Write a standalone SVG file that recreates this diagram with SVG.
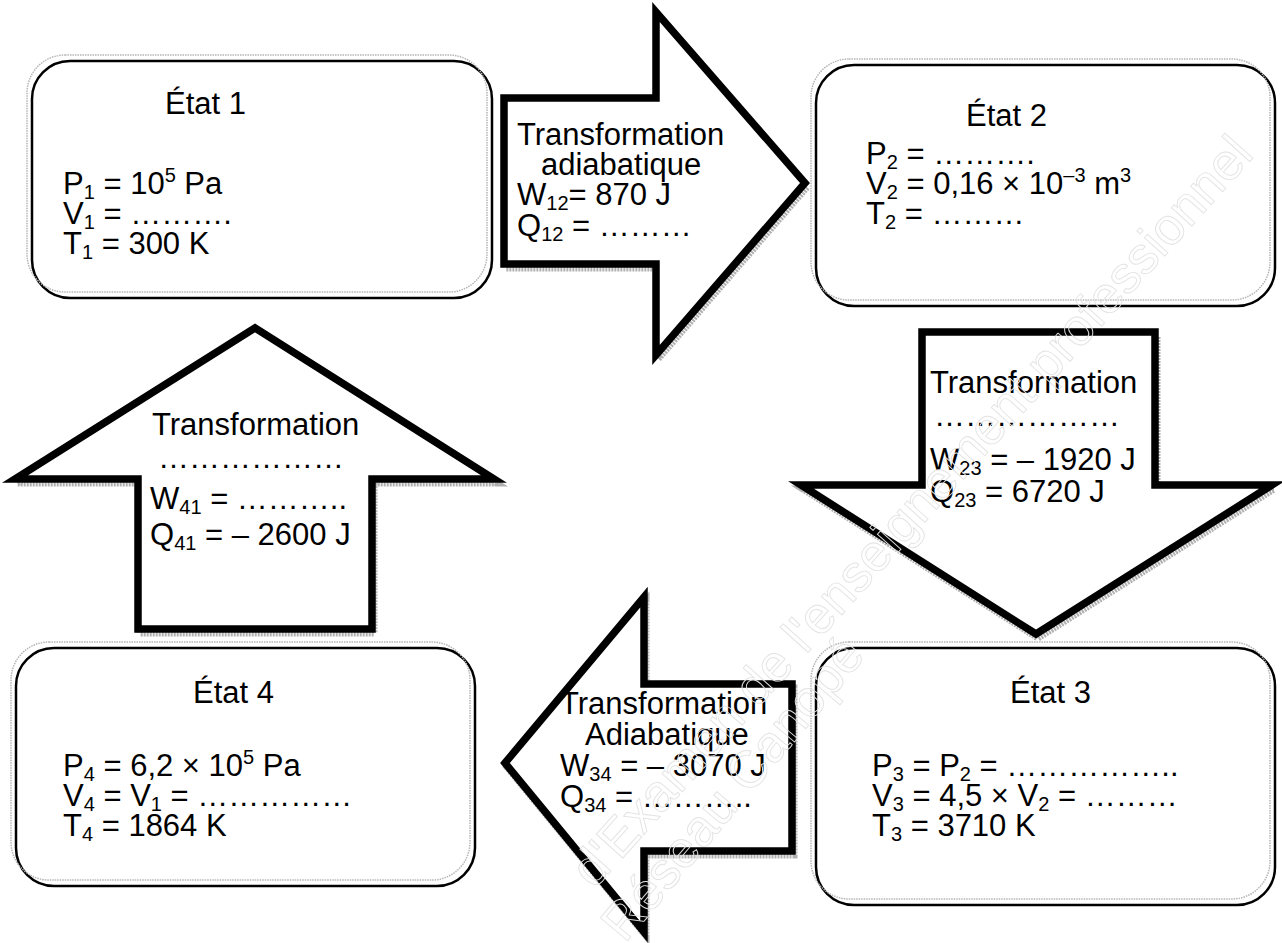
<svg xmlns="http://www.w3.org/2000/svg" width="1282" height="943" viewBox="0 0 1282 943">
<style>
.t{font-family:"Liberation Sans",Arial,sans-serif;font-size:31px;fill:#000}
.sb{font-size:20px}
.box{fill:#fff;stroke:#000;stroke-width:2.5}
.boxg{fill:none;stroke:#b5b5b5;stroke-width:1.5;stroke-dasharray:1.5 1}
.arr{fill:#fff;stroke:#000;stroke-width:7.5;stroke-linejoin:miter;stroke-miterlimit:10}
.arrg{fill:none;stroke:#b0b0b0;stroke-width:7;stroke-dasharray:2 1;stroke-linejoin:miter;stroke-miterlimit:10}
.wm{font-family:"Liberation Sans",Arial,sans-serif;font-size:52px;fill:none;stroke:#e3e3e3;stroke-width:0.9}
</style>
<rect width="1282" height="943" fill="#fff"/>

<g id="connectors">
  <g id="arrow-1-2">
    <polygon class="arrg" transform="translate(2,4)" points="504,98 656,98 656,12 805,183 656,355 656,264 504,264"/>
    <polygon class="arr" points="504,98 656,98 656,12 805,183 656,355 656,264 504,264"/>
    <text class="t"><tspan x="517" y="145">Transformation</tspan><tspan x="541" y="175">adiabatique</tspan><tspan x="517" y="205">W<tspan class="sb" dy="5">12</tspan><tspan dy="-5">= 870 J</tspan></tspan><tspan x="517" y="236">Q<tspan class="sb" dy="5">12</tspan><tspan dy="-5"> = ………</tspan></tspan></text>
  </g>
  <g id="arrow-2-3">
    <polygon class="arrg" transform="translate(2,4)" points="922,332 1155,332 1155,485 1272,485 1036,634 801,485 922,485"/>
    <polygon class="arr" points="922,332 1155,332 1155,485 1272,485 1036,634 801,485 922,485"/>
    <text class="t"><tspan x="930" y="393">Transformation</tspan><tspan x="934" y="426">………………</tspan><tspan x="930" y="470">W<tspan class="sb" dy="5">23</tspan><tspan dy="-5"> = – 1920 J</tspan></tspan><tspan x="930" y="502">Q<tspan class="sb" dy="5">23</tspan><tspan dy="-5"> = 6720 J</tspan></tspan></text>
  </g>
  <g id="arrow-3-4">
    <polygon class="arrg" transform="translate(2,4)" points="505,763 644,597 644,684 792,684 792,851 644,851 644,932"/>
    <polygon class="arr" points="505,763 644,597 644,684 792,684 792,851 644,851 644,932"/>
    <text class="t"><tspan x="560" y="714">Transformation</tspan><tspan x="585" y="745">Adiabatique</tspan><tspan x="560" y="776">W<tspan class="sb" dy="5">34</tspan><tspan dy="-5"> = – 3070 J</tspan></tspan><tspan x="560" y="807">Q<tspan class="sb" dy="5">34</tspan><tspan dy="-5"> = ………..</tspan></tspan></text>
  </g>
  <g id="arrow-4-1">
    <polygon class="arrg" transform="translate(2,4)" points="255,328 494,479 372,479 372,629 138,629 138,479 15,479"/>
    <polygon class="arr" points="255,328 494,479 372,479 372,629 138,629 138,479 15,479"/>
    <text class="t"><tspan x="152" y="435">Transformation</tspan><tspan x="158" y="468">………………</tspan><tspan x="150" y="509">W<tspan class="sb" dy="5">41</tspan><tspan dy="-5"> = ………..</tspan></tspan><tspan x="150" y="545">Q<tspan class="sb" dy="5">41</tspan><tspan dy="-5"> = – 2600 J</tspan></tspan></text>
  </g>
</g>

<g id="etat1">
  <rect class="box" x="32" y="61" width="460" height="237" rx="38"/>
  <rect class="boxg" x="27" y="55" width="460" height="237" rx="38"/>
  <text class="t" x="165" y="114">État 1</text>
  <text class="t"><tspan x="63" y="194">P<tspan class="sb" dy="5">1</tspan><tspan dy="-5"> = 10</tspan><tspan class="sb" dy="-12">5</tspan><tspan dy="12"> Pa</tspan></tspan><tspan x="63" y="224">V<tspan class="sb" dy="5">1</tspan><tspan dy="-5"> = ……….</tspan></tspan><tspan x="63" y="254">T<tspan class="sb" dy="5">1</tspan><tspan dy="-5"> = 300 K</tspan></tspan></text>
</g>

<g id="etat2">
  <rect class="box" x="816" y="65" width="459" height="241" rx="38"/>
  <rect class="boxg" x="811" y="59" width="459" height="241" rx="38"/>
  <text class="t"><tspan x="966" y="126">État 2</tspan><tspan x="866" y="164">P<tspan class="sb" dy="5">2</tspan><tspan dy="-5"> = ……….</tspan></tspan><tspan x="866" y="194">V<tspan class="sb" dy="5">2</tspan><tspan dy="-5"> = 0,16 × 10</tspan><tspan class="sb" dy="-12">–3</tspan><tspan dy="12"> m</tspan><tspan class="sb" dy="-12">3</tspan></tspan><tspan x="866" y="224">T<tspan class="sb" dy="5">2</tspan><tspan dy="-5"> = ………</tspan></tspan></text>
</g>

<g id="etat3">
  <rect class="box" x="816" y="648" width="459" height="257" rx="38"/>
  <rect class="boxg" x="811" y="642" width="459" height="257" rx="38"/>
  <text class="t" x="1010" y="703">État 3</text>
  <text class="t"><tspan x="872" y="776">P<tspan class="sb" dy="5">3</tspan><tspan dy="-5"> = P</tspan><tspan class="sb" dy="5">2</tspan><tspan dy="-5"> = ……………..</tspan></tspan><tspan x="872" y="806">V<tspan class="sb" dy="5">3</tspan><tspan dy="-5"> = 4,5 × V</tspan><tspan class="sb" dy="5">2</tspan><tspan dy="-5"> = ………</tspan></tspan><tspan x="872" y="836">T<tspan class="sb" dy="5">3</tspan><tspan dy="-5"> = 3710 K</tspan></tspan></text>
</g>

<g id="etat4">
  <rect class="box" x="16" y="648" width="459" height="238" rx="38"/>
  <rect class="boxg" x="11" y="642" width="459" height="238" rx="38"/>
  <text class="t" x="193" y="703">État 4</text>
  <text class="t"><tspan x="63" y="776">P<tspan class="sb" dy="5">4</tspan><tspan dy="-5"> = 6,2 × 10</tspan><tspan class="sb" dy="-12">5</tspan><tspan dy="12"> Pa</tspan></tspan><tspan x="63" y="806">V<tspan class="sb" dy="5">4</tspan><tspan dy="-5"> = V</tspan><tspan class="sb" dy="5">1</tspan><tspan dy="-5"> = ……………</tspan></tspan><tspan x="63" y="836">T<tspan class="sb" dy="5">4</tspan><tspan dy="-5"> = 1864 K</tspan></tspan></text>
</g>

<g id="watermark">
  <text class="wm" transform="translate(594,890) rotate(-48)">d'Examen de l'enseignement professionnel</text>
  <text class="wm" transform="translate(625,944) rotate(-50)">Réseau Canopé</text>
</g>
</svg>
